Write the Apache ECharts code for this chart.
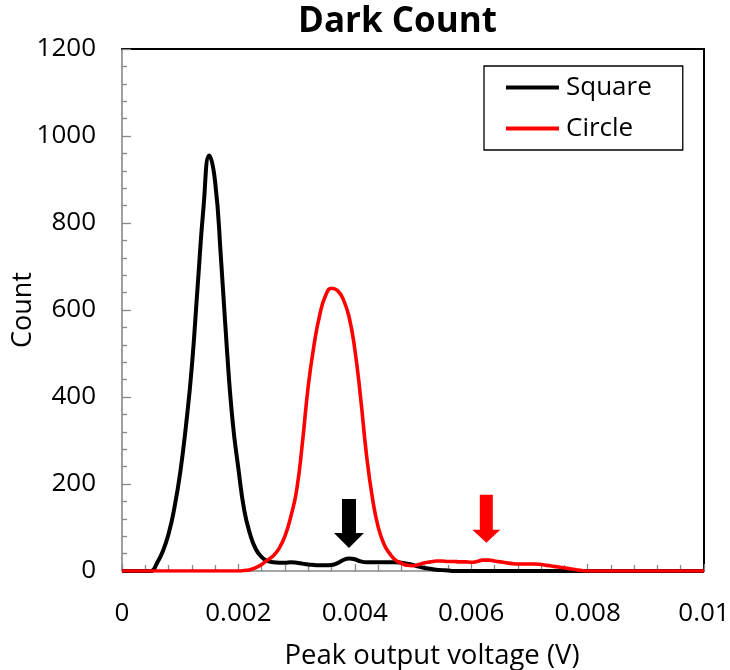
<!DOCTYPE html>
<html>
<head>
<meta charset="utf-8">
<script src="https://cdn.jsdelivr.net/npm/echarts@6/dist/echarts.min.js"></script>
<style>html,body{margin:0;padding:0;background:#fff;}#c{width:730px;height:670px;}</style>
</head>
<body>
<div id="c"></div>
<script>
// Peak output voltage (V), step 0.0001 from 0 to 0.01
var voltages = [];
for (var i = 0; i <= 100; i++) voltages.push(+(i * 0.0001).toFixed(4));

var squareCounts = [
  0, 0, 0, 0, 0, 0, 18, 45, 85, 145,
  226, 335, 470, 655, 835, 955, 895, 720, 515, 345,
  235, 140, 85, 50, 32, 23, 20, 19, 19, 20,
  19, 17, 15, 14, 13, 13, 14, 18, 25, 29,
  27, 22, 20, 20, 20, 20, 20, 20, 19, 17,
  14, 10, 7, 5, 3, 2, 1, 0, 0, 0,
  0, 0, 0, 0, 0, 0, 0, 0, 0, 0,
  0, 0, 0, 0, 0, 0, 0, 0, 0, 0,
  0, 0, 0, 0, 0, 0, 0, 0, 0, 0,
  0, 0, 0, 0, 0, 0, 0, 0, 0, 0,
  0
];

var circleCounts = [
  0, 0, 0, 0, 0, 0, 0, 0, 0, 0,
  0, 0, 0, 0, 0, 0, 0, 0, 0, 0,
  0, 1, 3, 8, 15, 25, 35, 52, 80, 125,
  185, 295, 425, 520, 590, 634, 650, 645, 625, 585,
  510, 398, 268, 170, 102, 62, 40, 25, 18, 13,
  12, 15, 19, 21, 23, 23, 22, 22, 21, 21,
  20, 22, 25, 25, 23, 21, 19, 17, 16, 16,
  16, 16, 15, 13, 11, 9, 7, 5, 3, 1,
  0, 0, 0, 0, 0, 0, 0, 0, 0, 0,
  0, 0, 0, 0, 0, 0, 0, 0, 0, 0,
  0
];

var seriesNames = ['Square', 'Circle'];
var squareArrowAt = [0.0039, 109];
var circleArrowAt = [0.00626, 120];

function pairs(xs, ys) { return xs.map(function (x, i) { return [x, ys[i]]; }); }

var FONT = 'Open Sans';
var chart = echarts.init(document.getElementById('c'), null, { renderer: 'canvas' });
chart.setOption({
  animation: false,
  backgroundColor: '#fff',
  textStyle: { fontFamily: FONT, color: '#000' },
  title: {
    text: 'Dark Count', left: 293, top: 0,
    textStyle: { fontFamily: FONT, fontSize: 35, fontWeight: 'bold', color: '#000' }
  },
  grid: { left: 122, right: 26, top: 49, bottom: 99, outerBoundsMode: 'none', containLabel: false },
  legend: {
    orient: 'vertical', left: 484, top: 66,
    borderColor: '#000', borderWidth: 1.3, borderRadius: 0,
    padding: [8, 31, 8, 22], itemGap: 14,
    itemWidth: 53, itemHeight: 4,
    icon: 'rect',
    textStyle: { fontFamily: FONT, fontSize: 26, color: '#000', lineHeight: 27, padding: [0, 0, 0, 2] },
    data: seriesNames
  },
  xAxis: [{
    type: 'value', min: 0, max: 0.01, interval: 0.002,
    name: 'Peak output voltage (V)', nameLocation: 'middle', nameGap: 71, nameMoveOverlap: false,
    nameTextStyle: { fontFamily: FONT, fontSize: 27.5, color: '#000', padding: [0, 0, 0, 38] },
    axisLine: { show: true, lineStyle: { color: '#888', width: 1.6 } },
    axisTick: { show: true, inside: true, length: 7, lineStyle: { color: '#888', width: 1.3 } },
    minorTick: { show: true, splitNumber: 5, length: 6, lineStyle: { color: '#888', width: 1.3 } },
    axisLabel: { fontFamily: FONT, fontSize: 26, color: '#000', margin: 30,
      formatter: function (v) { return v === 0 ? '0' : String(+v.toFixed(3)); } },
    splitLine: { show: false }
  }, {
    type: 'value', position: 'top', min: 0, max: 0.01,
    axisLine: { show: true, onZero: false, lineStyle: { color: '#000', width: 2 } },
    axisTick: { show: false }, axisLabel: { show: false }, splitLine: { show: false }
  }],
  yAxis: [{
    type: 'value', min: 0, max: 1200, interval: 200,
    name: 'Count', nameLocation: 'middle', nameGap: 85, nameRotate: 90, nameMoveOverlap: false,
    nameTextStyle: { fontFamily: FONT, fontSize: 27, color: '#000' },
    axisLine: { show: true, lineStyle: { color: '#888', width: 1.6 } },
    axisTick: { show: true, inside: true, length: 9, lineStyle: { color: '#888', width: 1.3 } },
    minorTick: { show: true, splitNumber: 5, length: 5, lineStyle: { color: '#888', width: 1.3 } },
    axisLabel: { fontFamily: FONT, fontSize: 26, color: '#000', margin: 26,
      formatter: function (v) { return String(v); } },
    splitLine: { show: false }
  }, {
    type: 'value', position: 'right', min: 0, max: 1200,
    axisLine: { show: true, onZero: false, lineStyle: { color: '#000', width: 2 } },
    axisTick: { show: false }, axisLabel: { show: false }, splitLine: { show: false }
  }],
  series: [{
    name: seriesNames[0], type: 'line', smooth: 0.5, symbol: 'none',
    data: pairs(voltages, squareCounts),
    lineStyle: { color: '#000', width: 4, join: 'round' }, itemStyle: { color: '#000' }, z: 3,
    markPoint: {
      silent: true,
      symbol: 'path://M8,0 L22,0 L22,34 L30,34 L15,49 L0,34 L8,34 Z',
      symbolSize: [30, 49],
      itemStyle: { color: '#000' },
      label: { show: false },
      data: [{ coord: squareArrowAt }]
    }
  }, {
    name: seriesNames[1], type: 'line', smooth: 0.5, symbol: 'none',
    data: pairs(voltages, circleCounts),
    lineStyle: { color: '#ff0000', width: 3.6, join: 'round' }, itemStyle: { color: '#ff0000' }, z: 4,
    markPoint: {
      silent: true,
      symbol: 'path://M7.5,0 L20.5,0 L20.5,35 L28,35 L14,48 L0,35 L7.5,35 Z',
      symbolSize: [28, 48],
      itemStyle: { color: '#ff0000' },
      label: { show: false },
      data: [{ coord: circleArrowAt }]
    }
  }]
});
</script>
</body>
</html>
